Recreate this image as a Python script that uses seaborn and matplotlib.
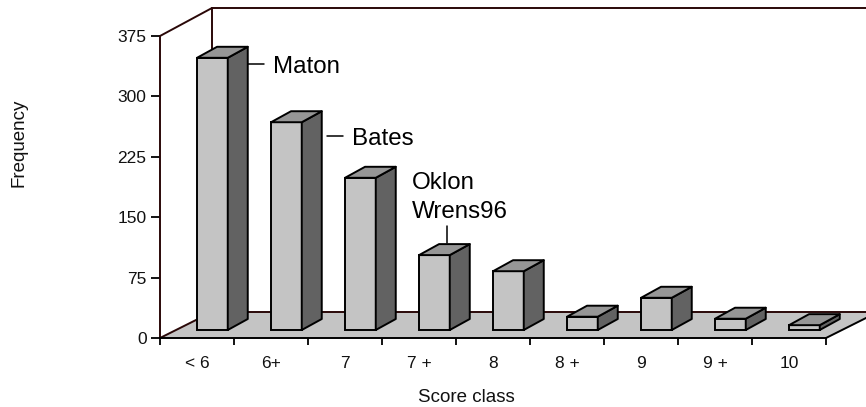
import matplotlib
matplotlib.use("Agg")
import matplotlib.pyplot as plt
import seaborn as sns
from matplotlib.patches import Polygon

categories = ["< 6", "6+", "7", "7 +", "8", "8 +", "9", "9 +", "10"]
frequency = [338, 258, 189, 93, 73, 16.5, 40, 14, 6]
y_ticks = [0, 75, 150, 225, 300, 375]

W, H = 866, 407
AX_L, AX_R, AX_T, AX_B = 160, 826, 36, 338
sns.set_theme(style="ticks")
plt.rcParams["font.family"] = ["Liberation Sans", "DejaVu Sans"]

fig = plt.figure(figsize=(W / 100, H / 100), dpi=100, facecolor="white")
ax = fig.add_axes([AX_L / W, 1 - AX_B / H, (AX_R - AX_L) / W, (AX_B - AX_T) / H])
ax.set_facecolor("none")

FRONT, SIDE, TOP = "#c4c4c4", "#626262", "#969696"
EDGE = 1.4
sns.barplot(x=categories, y=frequency, ax=ax, width=0.415, color=FRONT,
            saturation=1, edgecolor="black", linewidth=EDGE, zorder=4)
ax.set_xlim(-0.5, 8.5)
ax.set_ylim(0, 375)

PX_X = (AX_R - AX_L) / 9
PX_Y = (AX_B - AX_T) / 375


def dx(px):
    return px / PX_X


def dy(px):
    return px / PX_Y


def P(x, y):
    """figure pixel -> data coordinates"""
    return ((x - AX_L) / PX_X - 0.5, (AX_B - y) / PX_Y)


frame = "#2a0808"
ax.add_patch(Polygon([P(160, 338), P(826, 338), P(878, 312), P(212, 312)],
                     closed=True, facecolor=FRONT, edgecolor="none",
                     clip_on=False, zorder=1))
for a, b in [((160, 36), (212, 8)), ((212, 8), (212, 312)), ((212, 8), (880, 8)),
             ((160, 338), (212, 312)), ((212, 312), (880, 312))]:
    pa, pb = P(*a), P(*b)
    ax.plot([pa[0], pb[0]], [pa[1], pb[1]], color=frame, lw=1.4, clip_on=False, zorder=2)
for a, b in [((826, 338), (878, 312))]:
    pa, pb = P(*a), P(*b)
    ax.plot([pa[0], pb[0]], [pa[1], pb[1]], color="black", lw=1.4, clip_on=False, zorder=2)

shift, lift, depth_x, depth_y = dx(15.4), dy(8), dx(20), dy(11)
for bar in ax.containers[0]:
    bar.set_x(bar.get_x() + shift)
    bar.set_y(lift)
    x0, w, h = bar.get_x(), bar.get_width(), bar.get_height()
    x1, top = x0 + w, lift + h
    ax.add_patch(Polygon([(x1, lift), (x1 + depth_x, lift + depth_y),
                          (x1 + depth_x, top + depth_y), (x1, top)], closed=True,
                         facecolor=SIDE, edgecolor="black", lw=EDGE,
                         joinstyle="round", clip_on=False, zorder=4))
    ax.add_patch(Polygon([(x0, top), (x1, top), (x1 + depth_x, top + depth_y),
                          (x0 + depth_x, top + depth_y)], closed=True,
                         facecolor=TOP, edgecolor="black", lw=EDGE,
                         joinstyle="round", clip_on=False, zorder=4))

ax.set_yticks(y_ticks)
ax.tick_params(axis="y", length=6.7, width=1.3, color="black", labelsize=12.5, pad=3,
               labelcolor="#111111")
ax.set_xticks(range(len(categories)), categories)
ax.set_xticks([i - 0.5 for i in range(len(categories) + 1)], minor=True)
ax.tick_params(axis="x", which="major", length=0, pad=13, labelsize=12.5, labelcolor="#111111")
ax.tick_params(axis="x", which="minor", length=5, width=1.3, color="black")

for s in ["top", "right"]:
    ax.spines[s].set_visible(False)
ax.spines["left"].set_color(frame)
ax.spines["left"].set_linewidth(1.4)
ax.spines["bottom"].set_color("black")
ax.spines["bottom"].set_linewidth(1.4)
ax.spines["left"].set_zorder(2)
ax.spines["bottom"].set_zorder(2)

ax.set_xlabel("Score class", fontsize=13.5, color="#111111")
ax.xaxis.set_label_coords((466 - AX_L) / (AX_R - AX_L), -(397 - AX_B) / (AX_B - AX_T))
ax.xaxis.label.set_va("center")
ax.set_ylabel("Frequency", fontsize=13.5, color="#111111")
ax.yaxis.set_label_coords((19 - AX_L) / (AX_R - AX_L), (AX_B - 143) / (AX_B - AX_T))
ax.yaxis.label.set_va("center")

# callouts
for a, b in [((248, 64), (264, 64)), ((327, 136), (343, 136)), ((447, 226), (447, 243))]:
    pa, pb = P(*a), P(*b)
    ax.plot([pa[0], pb[0]], [pa[1], pb[1]], color="black", lw=1.1, clip_on=False, zorder=5)
for name, (x, y) in {"Maton": (273, 67), "Bates": (352, 139),
                     "Oklon": (412, 183), "Wrens96": (412, 212)}.items():
    ax.text(*P(x, y), name, fontsize=17.4, ha="left", va="center", color="black", zorder=6)

fig.savefig("out.png", dpi=100, facecolor="white")
